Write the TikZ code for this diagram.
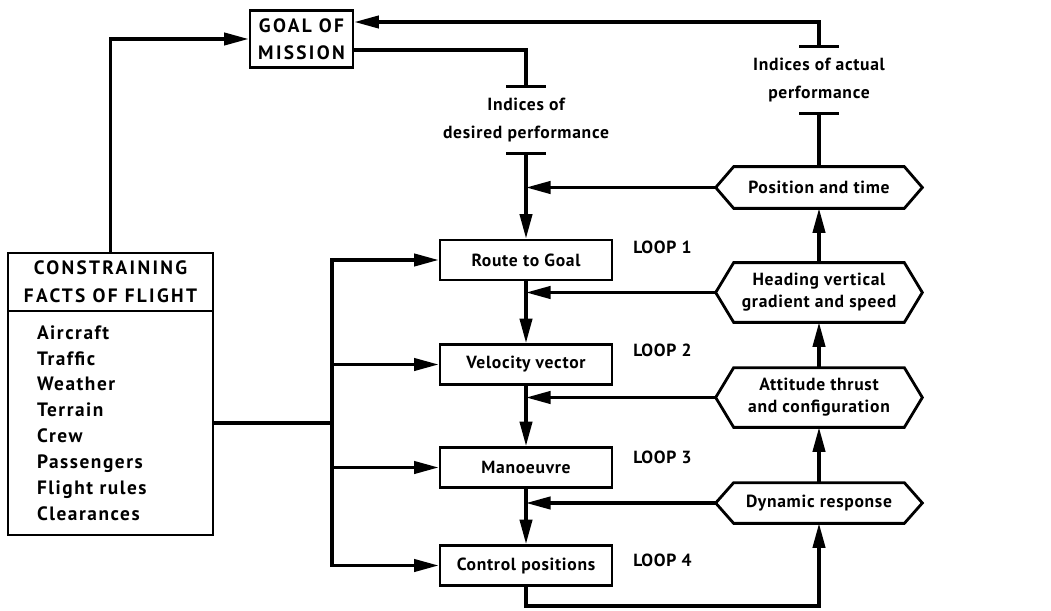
\documentclass[tikz,border=0pt]{standalone}
\usepackage{fontspec}
\setmainfont{PT Sans}[LetterSpace=4]
\usetikzlibrary{arrows.meta}
\tikzset{
  box/.style={draw, line width=1.6pt, minimum width=3.44cm, minimum height=0.8cm, inner sep=0pt, font=\fontsize{10}{15}\selectfont\bfseries},
  capsbox/.style={box, align=center, font=\fontsize{11}{16}\selectfont\bfseries\addfontfeature{LetterSpace=12}},
  hex/.style={minimum width=4.12cm, inner sep=0pt, align=center, font=\fontsize{10}{12.5}\selectfont\bfseries},
  lbl/.style={align=center, inner sep=0pt, minimum height=1.32cm, font=\fontsize{10}{16}\selectfont\bfseries},
  looptag/.style={anchor=west, inner sep=0pt, font=\fontsize{10}{12}\selectfont\bfseries},
  line/.style={line width=1.9pt},
  arr/.style={line width=1.9pt, -{Triangle[length=14pt,width=7pt]}},
}
\newcommand{\hexframe}[1]{\draw[line width=1.6pt] (#1.west) -- ([xshift=0.36cm]#1.north west) -- ([xshift=-0.36cm]#1.north east) -- (#1.east) -- ([xshift=-0.36cm]#1.south east) -- ([xshift=0.36cm]#1.south west) -- cycle;}
\begin{document}
\begin{tikzpicture}[x=0.02cm,y=-0.02cm]
\useasboundingbox (0,0) rectangle (1051,611);
\node[capsbox, minimum width=2.06cm, minimum height=1.14cm, font=\fontsize{11}{15.3}\selectfont\bfseries\addfontfeature{LetterSpace=12}] (goal) at (301.5,39) {GOAL OF\\MISSION};
\node[capsbox, minimum width=4.1cm, minimum height=1.16cm] (facthead) at (110.5,282) {CONSTRAINING\\FACTS OF FLIGHT};
\node[box, minimum width=4.1cm, minimum height=4.48cm, text width=2.94cm, inner xsep=0.58cm, align=left, font=\fontsize{11}{14.7}\selectfont\bfseries\addfontfeature{LetterSpace=8}] (factlist) at (110.5,423) {Aircraft\\Traffic\\Weather\\Terrain\\Crew\\Passengers\\Flight rules\\Clearances};
\node[box] (route) at (526,260) {Route to Goal};
\node[box] (velocity) at (526,364.5) {Velocity vector};
\node[box] (manoeuvre) at (526,467.5) {Manoeuvre};
\node[box] (control) at (526,565.5) {Control positions};
\node[looptag] (loop1) at (633,247) {LOOP 1};
\node[looptag] (loop2) at (633,350) {LOOP 2};
\node[looptag] (loop3) at (633,457) {LOOP 3};
\node[looptag] (loop4) at (633,560) {LOOP 4};
\node[hex, minimum height=0.82cm] (position) at (819,187.5) {Position and time};
\node[hex, minimum height=1.18cm] (heading) at (819,292.5) {Heading vertical\\gradient and speed};
\node[hex, minimum height=1.18cm] (attitude) at (819,397.5) {Attitude thrust\\and configuration};
\node[hex, minimum height=0.8cm] (dynamic) at (819,503) {Dynamic response};
\hexframe{position}
\hexframe{heading}
\hexframe{attitude}
\hexframe{dynamic}
\node[lbl] (desired) at (526,120) {Indices of\\desired performance};
\node[lbl] (actual) at (819,80) {Indices of actual\\performance};
\draw[line] ([xshift=-0.4cm]desired.north) -- ([xshift=0.4cm]desired.north);
\draw[line] ([xshift=-0.4cm]desired.south) -- ([xshift=0.4cm]desired.south);
\draw[line] ([xshift=-0.4cm]actual.north) -- ([xshift=0.4cm]actual.north);
\draw[line] ([xshift=-0.4cm]actual.south) -- ([xshift=0.4cm]actual.south);
\draw[arr] (facthead.north) |- (goal.west);
\draw[line] ([yshift=-0.22cm]goal.east) -| (desired.north);
\draw[arr] (actual.north) |- ([yshift=0.34cm]goal.east);
\draw[line] (actual.south) -- (position.north);
\draw[arr] (desired.south) -- (route.north);
\draw[arr] (route.south) -- (velocity.north);
\draw[arr] (velocity.south) -- (manoeuvre.north);
\draw[arr] (manoeuvre.south) -- (control.north);
\coordinate (bus) at (332,423);
\draw[line] (factlist.east) -- (bus);
\draw[arr] (bus) |- (route.west);
\draw[arr] (bus) |- (velocity.west);
\draw[arr] (bus) |- (manoeuvre.west);
\draw[arr] (bus) |- (control.west);
\draw[arr] (position.west) -- (position.west -| route.center);
\draw[arr] (heading.west) -- (heading.west -| route.center);
\draw[arr] (attitude.west) -- (attitude.west -| route.center);
\draw[arr] (dynamic.west) -- (dynamic.west -| route.center);
\draw[arr] (heading.north) -- (position.south);
\draw[arr] (attitude.north) -- (heading.south);
\draw[arr] (dynamic.north) -- (attitude.south);
\coordinate (cbot) at (526,606);
\draw[arr] (control.south) -- (cbot) -| (dynamic.south);
\end{tikzpicture}
\end{document}
